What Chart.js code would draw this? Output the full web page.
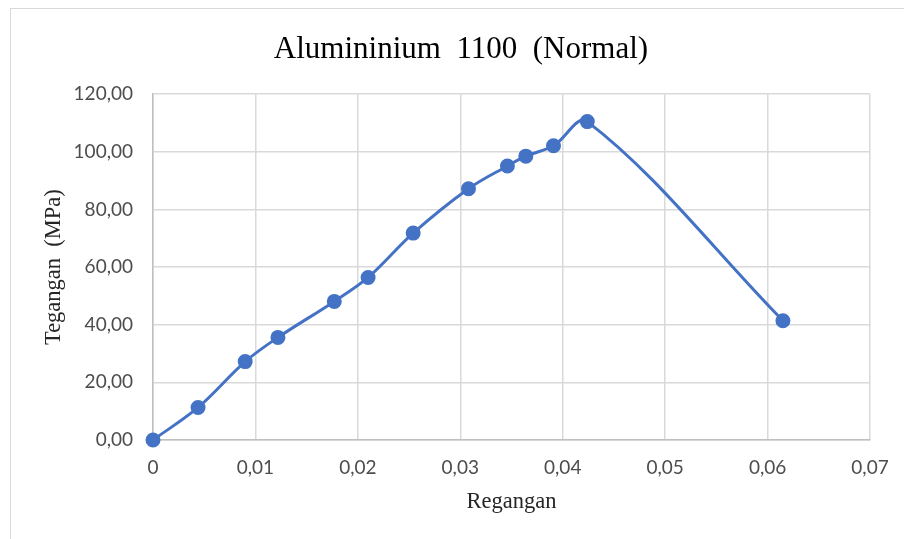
<!DOCTYPE html>
<html>
<head>
<meta charset="utf-8">
<script src="https://cdn.jsdelivr.net/npm/chart.js@4"></script>
<style>
  html, body { margin: 0; padding: 0; background: #fff; overflow: hidden; }
  #wrap { position: relative; width: 904px; height: 539px; overflow: hidden; }
  #frame { position: absolute; left: 10px; top: 8px; width: 1000px; height: 1000px; border: 1px solid #d9d9d9; }
  #chart { position: absolute; left: 0; top: 0; }
</style>
</head>
<body>
<div id="wrap">
  <div id="frame"></div>
  <canvas id="chart" width="904" height="539"></canvas>
</div>
<script>
// strain (Regangan) and stress (Tegangan, MPa)
const strain = [0, 0.0044, 0.0090, 0.0122, 0.0177, 0.0210, 0.0254, 0.0308, 0.0346, 0.0364, 0.0391, 0.0424, 0.0615];
const stress = [0, 11.3, 27.2, 35.6, 48.1, 56.4, 71.8, 87.2, 95.1, 98.5, 102.1, 110.5, 41.4];

const xTicks = [0, 0.01, 0.02, 0.03, 0.04, 0.05, 0.06, 0.07];
const yTicks = [0, 20, 40, 60, 80, 100, 120];

const points = strain.map((x, i) => ({ x: x, y: stress[i] }));

const blue = '#4472C4';
const grid = '#d9d9d9';
const tickFont = { family: 'Lato', size: 19 };
const serif = 'Liberation Serif';

const comma = (v, d) => v.toFixed(d).replace('.', ',');

new Chart(document.getElementById('chart'), {
  type: 'scatter',
  data: {
    datasets: [{
      data: points,
      showLine: true,
      clip: false,
      borderColor: blue,
      backgroundColor: blue,
      borderWidth: 3,
      pointRadius: 6,
      pointHoverRadius: 6,
      tension: 0.35
    }]
  },
  options: {
    responsive: false,
    animation: false,
    // left padding keeps the title centred like the original
    layout: { padding: { left: 18, right: 0, top: 0, bottom: 0 } },
    plugins: {
      legend: { display: false },
      tooltip: { enabled: false },
      title: {
        display: true,
        text: 'Alumininium  1100  (Normal)',
        color: '#000',
        font: { family: serif, size: 31, weight: 'normal' },
        padding: { top: 31, bottom: 26 }
      }
    },
    scales: {
      x: {
        type: 'linear',
        min: 0,
        max: 0.07,
        afterBuildTicks: (scale) => { scale.ticks = xTicks.map(v => ({ value: v })); },
        afterFit: (scale) => { scale.height = 99; scale.paddingRight = 34; },
        grid: { color: grid, lineWidth: 1.5, drawTicks: false },
        border: { color: '#bfbfbf', width: 1.5 },
        ticks: {
          color: '#4d4d4d',
          font: tickFont,
          padding: 16,
          callback: (v) => v === 0 ? '0' : comma(v, 2)
        },
        title: {
          display: true,
          text: 'Regangan',
          color: '#262626',
          font: { family: serif, size: 22.5 },
          padding: { top: 0, bottom: 23 }
        }
      },
      y: {
        type: 'linear',
        min: 0,
        max: 120,
        afterBuildTicks: (scale) => { scale.ticks = yTicks.map(v => ({ value: v })); },
        afterFit: (scale) => { scale.width = 135; },
        grid: { color: grid, lineWidth: 1.5, drawTicks: false },
        border: { color: '#bfbfbf', width: 1.5 },
        ticks: {
          color: '#4d4d4d',
          font: tickFont,
          padding: 20,
          callback: (v) => comma(v, 2)
        },
        title: {
          display: true,
          text: 'Tegangan  (MPa)',
          color: '#262626',
          font: { family: serif, size: 22.5 },
          padding: { top: 22.5, bottom: 0 }
        }
      }
    }
  }
});
</script>
</body>
</html>
